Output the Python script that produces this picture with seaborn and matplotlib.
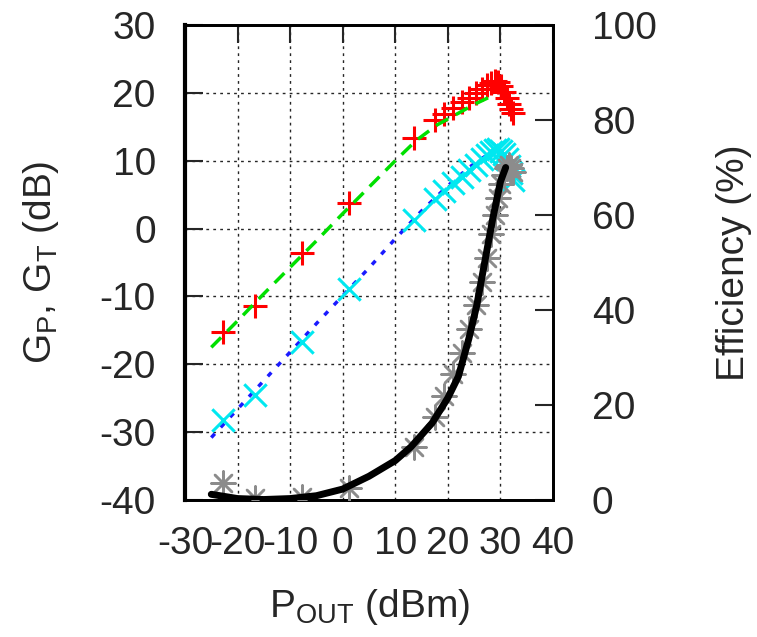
import matplotlib
matplotlib.use("Agg")
import matplotlib.pyplot as plt
import seaborn as sns
import pandas as pd

# ---- measured data (shared output power axis) ----
pout = [-22.8, -16.6, -7.7, 1.2, 13.6, 17.5, 19.3, 21.0, 22.6, 24.0, 25.3, 26.4,
        27.4, 28.3, 29.0, 29.6, 30.2, 30.7, 31.2, 31.6, 32.0, 32.3]
gp_meas = [-15.2, -11.4, -3.6, 3.8, 13.4, 16.0, 16.9, 17.8, 18.6, 19.3, 20.0, 20.6,
           21.1, 21.5, 21.7, 21.6, 21.0, 20.2, 19.3, 18.4, 17.6, 17.0]
gt_meas = [-28.2, -24.5, -16.7, -8.9, 1.3, 4.4, 5.6, 6.7, 7.6, 8.6, 9.4, 10.2,
           10.8, 11.3, 11.6, 11.7, 11.5, 11.0, 10.2, 9.2, 8.2, 7.2]
eff_meas = [3.6, 0.4, 0.6, 2.5, 11.2, 17.5, 22.0, 26.5, 31.0, 36.0, 41.0, 46.0,
            51.0, 56.0, 60.0, 63.5, 66.5, 68.5, 70.0, 70.5, 70.0, 69.0]

# ---- simulated curves ----
gp_sim_x = [-25, -20, -15, -10, -5, 0, 5, 10, 14, 18, 22, 25, 28, 29]
gp_sim_y = [-17.5, -13.6, -9.6, -5.7, -1.8, 2.2, 6.1, 10.0, 13.0, 15.3, 17.0, 18.3, 19.4, 19.9]
gt_sim_x = [-25, -20, -15, -10, -5, 0, 5, 10, 15, 20, 24, 27, 29]
gt_sim_y = [-30.8, -26.6, -22.4, -18.2, -14.0, -9.9, -5.8, -1.5, 2.6, 6.3, 9.0, 10.6, 11.2]
eff_sim_x = [-25, -20, -15, -10, -5, 0, 5, 10, 13, 17, 20, 22, 24, 25.5, 27, 28.5, 30, 31]
eff_sim_y = [1.2, 0.3, 0.1, 0.3, 0.9, 2.3, 5.0, 8.3, 11.2, 16.2, 21.5, 26, 34, 41, 50, 59, 67, 70]

x_ticks = [-30, -20, -10, 0, 10, 20, 30, 40]
y_ticks = [-40, -30, -20, -10, 0, 10, 20, 30]
y2_ticks = [0, 20, 40, 60, 80, 100]

sns.set_style("white")
plt.rcParams['font.family'] = ['Liberation Sans', 'DejaVu Sans']
plt.rcParams['mathtext.fontset'] = 'custom'
plt.rcParams['mathtext.rm'] = 'Liberation Sans'
plt.rcParams['mathtext.it'] = 'Liberation Sans'
plt.rcParams['axes.unicode_minus'] = False

meas = pd.DataFrame({"pout": pout, "gp": gp_meas, "gt": gt_meas, "eff": eff_meas})
gp_sim = pd.DataFrame({"x": gp_sim_x, "y": gp_sim_y})
gt_sim = pd.DataFrame({"x": gt_sim_x, "y": gt_sim_y})
eff_sim = pd.DataFrame({"x": eff_sim_x, "y": eff_sim_y})

fig = plt.figure(figsize=(7.57, 6.37), dpi=100)
ax = fig.add_axes([185/757, 1-500/637, (553-185)/757, (500-25)/637])

fs = 28
ax.set_xlim(-30, 40)
ax.set_ylim(-40, 30)
ax.set_xticks(x_ticks)
ax.set_yticks(y_ticks)
ax.grid(True, color='black', linestyle=(0, (2, 3)), linewidth=1.0, alpha=0.85)
ax.set_axisbelow(True)

sns.scatterplot(data=meas, x="pout", y="gp", marker='+', s=300, color='#ff0000',
                linewidth=2.2, ax=ax, zorder=3)
sns.lineplot(data=gp_sim, x="x", y="y", color='#00e000', linewidth=2.5,
             linestyle=(0, (4, 2.5)), ax=ax, zorder=4)
sns.lineplot(data=gt_sim, x="x", y="y", color='#1a1aff', linewidth=2.5,
             linestyle=(0, (1.5, 2.5)), ax=ax, zorder=3)
sns.scatterplot(data=meas, x="pout", y="gt", marker='x', s=260, color='#00e8f0',
                linewidth=2.2, ax=ax, zorder=4)

ax.set_xlabel(r"P$_{\mathrm{OUT}}$ (dBm)", fontsize=fs, labelpad=18)
ax.set_ylabel(r"G$_{\mathrm{P}}$, G$_{\mathrm{T}}$ (dB)", fontsize=fs, labelpad=28)
ax.tick_params(axis='both', direction='in', length=13, width=1.5, labelsize=fs,
               top=True)
ax.tick_params(axis='x', pad=19)
ax.tick_params(axis='y', pad=21)

ax2 = ax.twinx()
sns.scatterplot(data=meas, x="pout", y="eff", marker=(8, 2, 0), s=300, color='#8c8c8c',
                linewidth=1.8, ax=ax2, zorder=3)
sns.lineplot(data=eff_sim, x="x", y="y", color='black', linewidth=5, ax=ax2, zorder=4)
ax2.set_ylim(0, 100)
ax2.set_yticks(y2_ticks)
ax2.set_ylabel("Efficiency (%)", fontsize=fs, labelpad=43)
ax2.tick_params(axis='y', direction='in', length=13, width=1.5, labelsize=fs, pad=28)
ax2.set_xlim(-30, 40)

for a in (ax, ax2):
    for sp in a.spines.values():
        sp.set_color('black')
        sp.set_linewidth(2)
        sp.set_visible(True)
ax.spines['left'].set_linewidth(3)

fig.savefig("out.png", dpi=100)
